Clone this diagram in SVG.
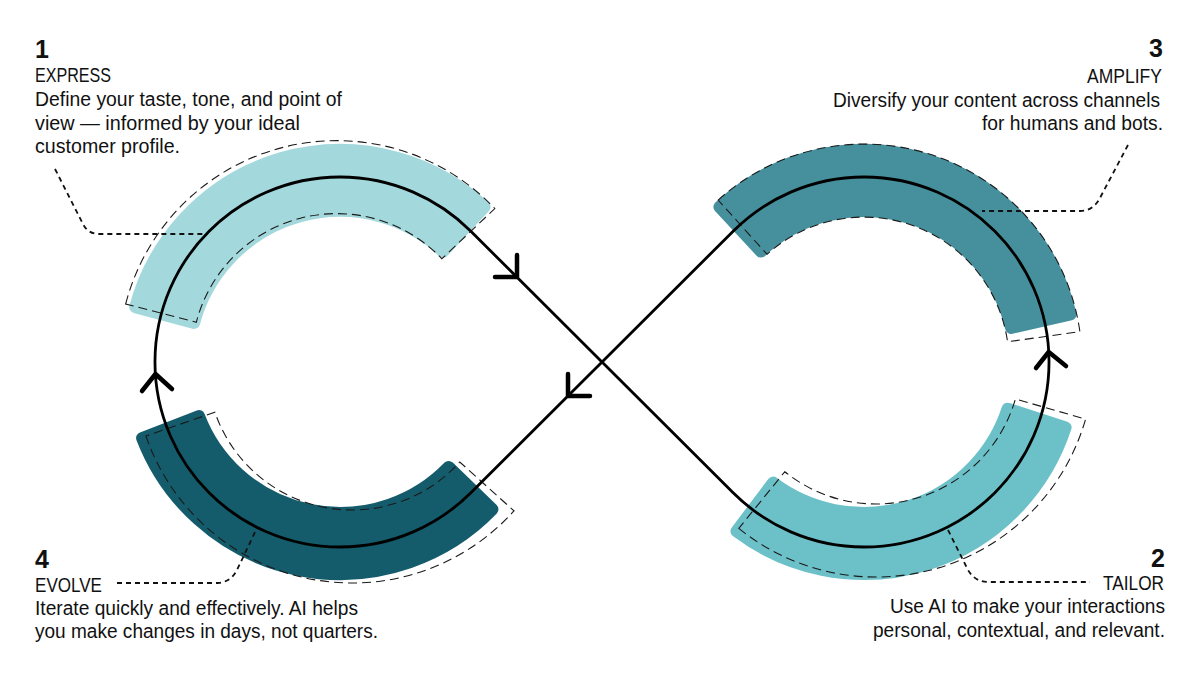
<svg xmlns="http://www.w3.org/2000/svg" width="1201" height="675" viewBox="0 0 1201 675">
<style>
.band{stroke-width:12;stroke-linejoin:round}
.outline{fill:none;stroke:#1a1a1a;stroke-width:1.1;stroke-dasharray:9 5}
.leader{fill:none;stroke:#111;stroke-width:1.8;stroke-dasharray:5 4}
.loop{fill:none;stroke:#000;stroke-width:2.8}
.arrow{fill:none;stroke:#000;stroke-width:4.5;stroke-linecap:round;stroke-linejoin:round}
text{font-family:"Liberation Sans",Arial,sans-serif;fill:#111}
.num{font-size:25px;font-weight:bold}
.txt{font-size:20px}
.end{text-anchor:end}
</style>
<rect width="1201" height="675" fill="#fff"/>
<g id="node-express">
<path class="band" fill="#a3d8dc" stroke="#a3d8dc" d="M135.2,307.1 A212,212 0 0 1 484.6,206.9 L443,251.6 A151,151 0 0 0 194.1,322.9 Z"/>
<path class="outline" transform="rotate(1.5 470 235)" d="M127.6,313 A218,218 0 0 1 494.1,207.9 L442.5,259.5 A145,145 0 0 0 198.7,329.4 Z"/>
<path class="leader" d="M55,169 L83,224 Q88,234 99,234 L203,234"/>
<text class="num" x="35" y="58">1</text>
<text class="txt" x="35" y="82" textLength="76" lengthAdjust="spacingAndGlyphs">EXPRESS</text>
<text class="txt" x="35" y="106" textLength="307" lengthAdjust="spacingAndGlyphs">Define your taste, tone, and point of</text>
<text class="txt" x="35" y="130" textLength="265" lengthAdjust="spacingAndGlyphs">view — informed by your ideal</text>
<text class="txt" x="35" y="153" textLength="145" lengthAdjust="spacingAndGlyphs">customer profile.</text>
</g>
<g id="node-amplify">
<path class="band" fill="#46909e" stroke="#46909e" d="M719.4,206.9 A212,212 0 0 1 1070.6,314.3 L1011.1,328 A151,151 0 0 0 761,251.6 Z"/>
<path class="outline" transform="rotate(3 864 362)" d="M709.9,207.9 A218,218 0 0 1 1078,320.4 L1006.3,334.3 A145,145 0 0 0 761.5,259.5 Z"/>
<path class="leader" d="M1128,145 L1101,196 Q1094,211 1080,211 L982,211"/>
<text class="num end" x="1163" y="57">3</text>
<text class="txt end" x="1162" y="83" textLength="75" lengthAdjust="spacingAndGlyphs">AMPLIFY</text>
<text class="txt end" x="1160" y="107" textLength="327" lengthAdjust="spacingAndGlyphs">Diversify your content across channels</text>
<text class="txt end" x="1163" y="130" textLength="181" lengthAdjust="spacingAndGlyphs">for humans and bots.</text>
</g>
<g id="node-evolve">
<path class="band" fill="#145c6b" stroke="#145c6b" d="M142.1,438 A212,212 0 0 0 492.5,509.3 L448.6,466.9 A151,151 0 0 1 199,416.1 Z"/>
<path class="outline" transform="translate(12 3)" d="M133.9,433 A218,218 0 0 0 502,507.9 L447.8,459 A145,145 0 0 1 202.9,409.2 Z"/>
<path class="leader" d="M117,583 L218,583 Q231,582 237,570 L257,528"/>
<text class="num" x="35" y="568">4</text>
<text class="txt" x="35" y="592" textLength="67" lengthAdjust="spacingAndGlyphs">EVOLVE</text>
<text class="txt" x="35" y="615" textLength="323" lengthAdjust="spacingAndGlyphs">Iterate quickly and effectively. AI helps</text>
<text class="txt" x="35" y="638" textLength="343" lengthAdjust="spacingAndGlyphs">you make changes in days, not quarters.</text>
</g>
<g id="node-tailor">
<path class="band" fill="#6cc1c8" stroke="#6cc1c8" d="M736.4,531.3 A212,212 0 0 0 1065.6,427.5 L1007.6,408.7 A151,151 0 0 1 773.1,482.6 Z"/>
<path class="outline" transform="translate(12 -3)" d="M726.8,531.4 A218,218 0 0 0 1073.6,422.1 L1003.4,402 A145,145 0 0 1 772.8,474.7 Z"/>
<path class="leader" d="M948,530 L966,566 Q973,582 988,582 L1090,582"/>
<text class="num end" x="1165" y="567">2</text>
<text class="txt end" x="1164" y="590" textLength="61" lengthAdjust="spacingAndGlyphs">TAILOR</text>
<text class="txt end" x="1165" y="613" textLength="275" lengthAdjust="spacingAndGlyphs">Use AI to make your interactions</text>
<text class="txt end" x="1165" y="637" textLength="292" lengthAdjust="spacingAndGlyphs">personal, contextual, and relevant.</text>
</g>
<g id="connectors">
<path class="loop" d="M602,362 L733.4,493 A185,185 0 1 0 733.4,231 L470.6,493 A185,185 0 1 1 470.6,231 Z"/>
<path class="arrow" d="M495,277 L517,277 L517,255"/>
<path class="arrow" d="M568,374 L568,396 L590,396"/>
<path class="arrow" d="M142,391 L155.5,374 L172,389"/>
<path class="arrow" d="M1036,368 L1048.7,352 L1066,366"/>
</g>
</svg>
